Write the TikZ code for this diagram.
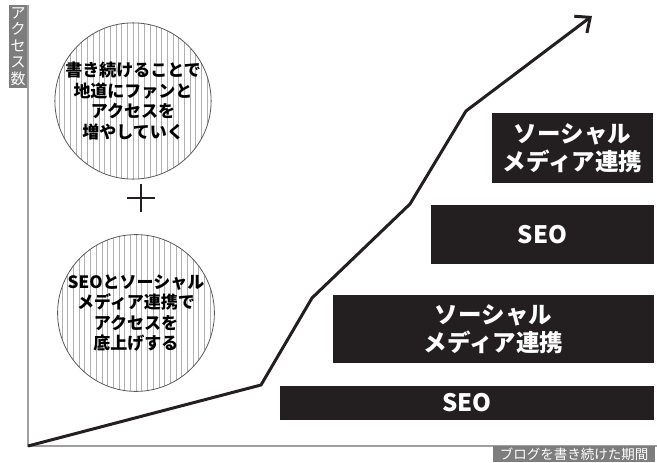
\documentclass[tikz,border=0pt]{standalone}
\usepackage{fontspec}
\newfontfamily\jp{Noto Sans CJK JP}
\usetikzlibrary{arrows.meta}
\definecolor{ink}{HTML}{231F20}
\definecolor{axisgray}{HTML}{A0A0A0}
\definecolor{labelgray}{HTML}{7D7D7D}
\definecolor{hatchgray}{HTML}{B0B0B0}
\begin{document}
\begin{tikzpicture}[x=1pt,y=-1pt,
  axisline/.style={draw=axisgray,line width=1.8pt},
  axislabel/.style={fill=labelgray,text=white,inner sep=0pt,align=center},
  bubble/.style={circle,draw=ink!75,line width=0.8pt,minimum size=#1,inner sep=0pt,align=center,
    font=\jp\bfseries\fontsize{17}{20.5}\selectfont,
    path picture={\foreach \k in {-14,...,14}{\draw[hatchgray,line width=0.5pt]
      ([xshift=\k*5.7pt]path picture bounding box.north) -- ([xshift=\k*5.7pt]path picture bounding box.south);}}},
  stage/.style={fill=ink,text=white,inner sep=0pt,align=center,font=\jp\bfseries\fontsize{23.5}{28}\selectfont},
  seo/.style={stage,font=\jp\bfseries\fontsize{24}{28}\selectfont},
  growth/.style={draw=ink,line width=3pt,line join=round,-{Straight Barb[length=12pt,width=21pt]}},
  plusbar/.style={draw=ink,line width=2.2pt}
]
\useasboundingbox (0,0) rectangle (657,463);
% axes
\draw[axisline] (28,5) -- (28,446) -- (657,446);
\node[axislabel,minimum width=18pt,minimum height=83pt,font=\jp\fontsize{15}{16.4}\selectfont] (ylab) at (18,46.5) {ア\\ク\\セ\\ス\\数};
\node[axislabel,minimum width=162pt,minimum height=16pt,font=\jp\fontsize{13.5}{16}\selectfont] (xlab) at (574,454) {ブログを書き続けた期間};
% stage boxes
\node[stage,minimum width=161pt,minimum height=70pt] (b1) at (572.5,148) {ソーシャル\\メディア連携};
\node[seo,minimum width=223pt,minimum height=59pt] (b2) at (542.5,234.5) {SEO};
\node[stage,minimum width=321pt,minimum height=68pt] (b3) at (493.5,329) {ソーシャル\\メディア連携};
\node[seo,minimum width=374pt,minimum height=34pt] (b4) at (467,403) {SEO};
% bubbles
\node[bubble=151pt] (c1) at (133,101) {書き続けることで\\地道にファンと\\アクセスを\\増やしていく};
\node[bubble=148pt] (c2) at (136,313) {SEOとソーシャル\\メディア連携で\\アクセスを\\底上げする};
\coordinate (plus) at (141,198);
\draw[plusbar] ([xshift=-14pt]plus) -- ([xshift=14pt]plus) ([yshift=-14pt]plus) -- ([yshift=14pt]plus);
% growth line
\coordinate (o) at (28,446);
\coordinate (p1) at (261,385);
\coordinate (p2) at (312,298);
\coordinate (p3) at (410,204);
\coordinate (p4) at (466,111);
\coordinate (tip) at (592,16);
\draw[growth] (o) -- (p1) -- (p2) -- (p3) -- (p4) -- (tip);
\end{tikzpicture}
\end{document}
